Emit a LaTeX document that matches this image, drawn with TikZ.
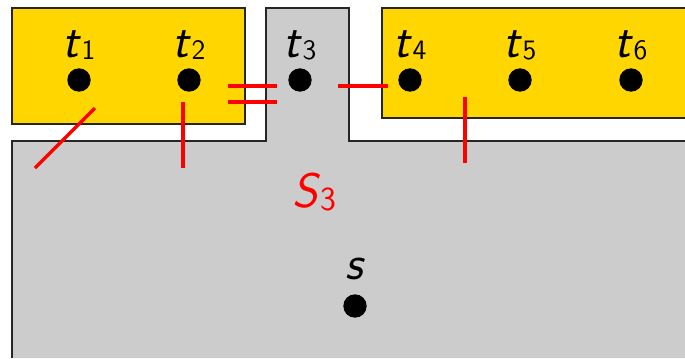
\documentclass[tikz,border=0pt]{standalone}
\usetikzlibrary{positioning}
\definecolor{boxyellow}{RGB}{255,214,0}
\definecolor{regiongray}{RGB}{204,204,204}
\newcommand{\sublab}[2]{\textsl{#1}\raisebox{-0.1ex}{\Large #2}}
\tikzset{
  dot/.style={circle, fill=black, inner sep=0pt, minimum size=0.42cm},
  lbl/.style={font=\sffamily\Huge, inner sep=0pt},
  edge/.style={black!85, line width=0.7pt},
  cut/.style={red, line width=1.8pt}
}
\begin{document}
\begin{tikzpicture}[x=0.18cm, y=0.18cm]
        \useasboundingbox (0,0) rectangle (68.5,35.8);

        % Region S3
        \fill[regiongray] (1.2,0) -- (1.2,21.7) -- (26.6,21.7) -- (26.6,35.0) -- (34.9,35.0) -- (34.9,21.7) -- (68.5,21.7) -- (68.5,0) -- cycle;
        \draw[edge] (1.2,0) -- (1.2,21.7) -- (26.6,21.7) -- (26.6,35.0) -- (34.9,35.0) -- (34.9,21.7) -- (68.5,21.7);

        % Yellow boxes
        \filldraw[edge, fill=boxyellow] (1.2,23.4) rectangle (24.5,35.0);
        \fill[boxyellow] (38.2,24.0) rectangle (68.5,35.0);
        \draw[edge] (68.5,35.0) -- (38.2,35.0) -- (38.2,24.0) -- (68.5,24.0);

        % Terminals
        \foreach \i/\x in {1/7.9, 2/18.9, 3/30.0, 4/41.0, 5/52.0, 6/63.1} {
            \node[dot] (t\i) at (\x,27.8) {};
            \node[lbl, above=4pt of t\i] (lt\i) {\sublab{t}{\i}};
        }

        % Source
        \node[dot] (s) at (35.5,5.2) {};
        \node[lbl, above=7pt of s] (ls) {\textsl{s}};
        \node[lbl, red] (S3) at (31.4,16.6) {\sublab{S}{\LARGE 3}};

        % Cut edges
        \draw[cut] (9.5,25.0) -- (3.5,19.0);
        \draw[cut] (18.3,25.6) -- (18.3,19.0);
        \draw[cut] (22.8,27.2) -- (27.7,27.2);
        \draw[cut] (22.8,25.6) -- (27.7,25.6);
        \draw[cut] (33.8,27.2) -- (38.8,27.2);
        \draw[cut] (46.5,26.1) -- (46.5,19.5);
    \end{tikzpicture}
\end{document}
